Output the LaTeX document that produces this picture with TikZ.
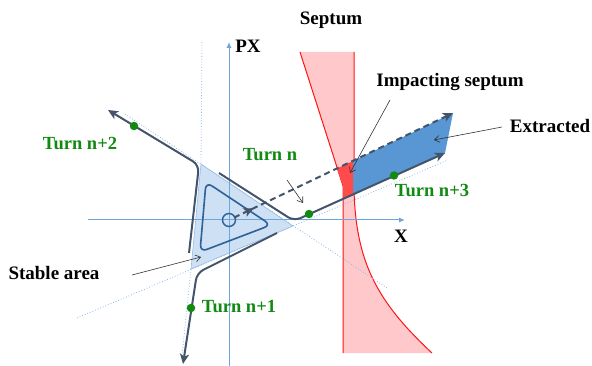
\documentclass[tikz,border=0pt]{standalone}
\usepackage{fontspec}
\setmainfont{Liberation Serif}
\usetikzlibrary{arrows.meta,decorations.markings}
\definecolor{axisblue}{RGB}{110,165,218}
\definecolor{dotblue}{RGB}{140,182,228}
\definecolor{trifill}{RGB}{197,218,241}
\definecolor{triedge}{RGB}{150,188,230}
\definecolor{innerblue}{RGB}{46,98,150}
\definecolor{pathgray}{RGB}{68,84,106}
\definecolor{extblue}{RGB}{88,150,212}
\definecolor{imred}{RGB}{255,75,75}
\definecolor{septpink}{RGB}{255,200,202}
\definecolor{septred}{RGB}{255,20,20}
\definecolor{turngreen}{RGB}{18,138,18}
\begin{document}
\begin{tikzpicture}[x=1pt,y=-1pt,
  lbl/.style={font=\fontsize{19}{22}\selectfont\bfseries, text=black, inner sep=0pt},
  grn/.style={font=\fontsize{18.5}{22}\selectfont\bfseries, text=turngreen, inner sep=0pt},
  axisline/.style={draw=axisblue, line width=1pt, -{Latex[length=6pt,width=5pt]}},
  sepline/.style={draw=dotblue, line width=0.8pt, dotted},
  orbit/.style={draw=pathgray, line width=2pt, rounded corners=7pt, -{Stealth[length=10pt,width=9pt,inset=2.5pt]}},
  pointer/.style={draw=black!80, line width=0.6pt, -{Straight Barb[length=5pt,width=7pt]}},
  turndot/.style={circle, fill=turngreen, inner sep=0pt, minimum size=8.5pt}
]
\useasboundingbox (0,0) rectangle (592,366);

% septum
\fill[septpink] (300,52) -- (343,186) -- (343,353) -- (432,353)
  .. controls (375,300) and (356,260) .. (354,190) -- (354,52) -- cycle;
\draw[septred, line width=1pt] (300,52) -- (343,186) -- (343,353);
\draw[septred, line width=1pt] (354,52) -- (354,190) .. controls (356,260) and (375,300) .. (432,353);

% separatrices (dotted)
\draw[sepline] (202,42) -- (201,164);
\draw[sepline] (191,269) -- (182,356);
\draw[sepline] (125,114) -- (387,288);
\draw[sepline] (77,318) -- (448,160);

% stable triangle
\fill[trifill, fill opacity=0.85] (201,164) -- (293,226) -- (191,269) -- cycle;
\draw[triedge, line width=0.6pt] (201,164) -- (293,226) -- (191,269) -- cycle;

% axes
\coordinate (xs) at (88,220);
\coordinate (xe) at (405,220);
\coordinate (ps) at (229,366);
\coordinate (pe) at (229,42);
\draw[axisline] (xs) -- (xe);
\draw[axisline] (ps) -- (pe);

% inner orbit
\draw[innerblue, line width=1.6pt, rounded corners=7pt] (206,182) -- (271,225) -- (200,252) -- cycle;
\node[circle, draw=innerblue, line width=1.4pt, minimum size=13pt, inner sep=0pt] (c0) at (229,220) {};

% extracted and impacting regions
\fill[extblue] (353,161) -- (453,113) -- (445,153) -- (353,194.5) -- cycle;
\fill[imred] (337,168.5) -- (353,161) -- (353,194.5) -- (343,199.5) -- (343,186) -- cycle;

% dashed extraction line
\coordinate (dend) at (453,113);
\draw[pathgray, line width=2pt, dash pattern=on 6pt off 4pt,
  -{Stealth[length=10pt,width=9pt,inset=2.5pt]},
  postaction={decorate},
  decoration={markings, mark=at position 0.09 with {\arrow{Stealth[length=10pt,width=9pt,inset=2.5pt]}}}]
  (c0.center) ++(5,-2.4) -- (dend);

% orbits
\coordinate (a0) at (219,173);
\coordinate (a1) at (294,221);
\coordinate (a2) at (445,153);
\draw[orbit] (a0) -- (a1) -- (a2);
\coordinate (b0) at (189,253);
\coordinate (b1) at (199,165);
\coordinate (b2) at (108,110);
\draw[orbit] (b0) -- (b1) -- (b2);
\coordinate (d0) at (277,233);
\coordinate (d1) at (197,273);
\coordinate (d2) at (183,364);
\draw[orbit] (d0) -- (d1) -- (d2);

% turn dots
\node[turndot] (dn) at (309,214) {};
\node[turndot] (dn1) at (191,308) {};
\node[turndot] (dn2) at (134,126) {};
\node[turndot] (dn3) at (394,175.5) {};

% labels
\node[lbl] (septum) at (331,20) {Septum};
\node[lbl] (px) at (248,46) {PX};
\node[lbl] (xl) at (401,236) {X};
\node[lbl] (imp) at (450,82) {Impacting septum};
\node[lbl] (ext) at (550,126) {Extracted};
\node[lbl] (stable) at (54,273) {Stable area};
\node[grn] (tn) at (270,155) {Turn n};
\node[grn] (tn1) at (239,307) {Turn n+1};
\node[grn] (tn2) at (80,143) {Turn n+2};
\node[grn] (tn3) at (432,190) {Turn n+3};

% pointers
\coordinate (sa0) at (132,275);
\coordinate (sa1) at (201,257);
\draw[pointer] (sa0) -- (sa1);
\coordinate (tp0) at (287,180);
\coordinate (tp1) at (303,203);
\draw[pointer] (tp0) -- (tp1);
\coordinate (ip0) at (390,100);
\coordinate (ip1) at (350,173);
\draw[pointer] (ip0) -- (ip1);
\coordinate (ep0) at (502,127);
\coordinate (ep1) at (434,140);
\draw[pointer] (ep0) -- (ep1);
\end{tikzpicture}
\end{document}
